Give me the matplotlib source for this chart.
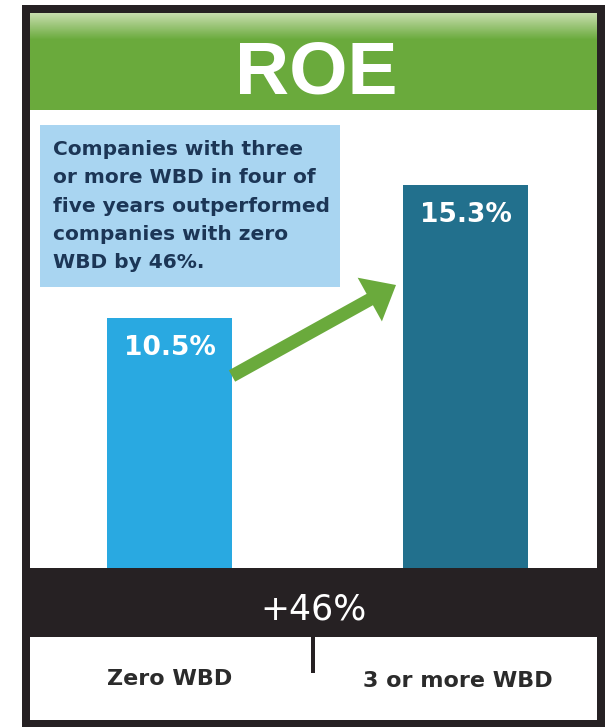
import matplotlib
matplotlib.use("Agg")
import matplotlib.pyplot as plt
import numpy as np
from matplotlib.patches import Rectangle, FancyArrow

# ---- data ----
categories = ["Zero WBD", "3 or more WBD"]
values = [10.5, 15.3]
value_labels = ["10.5%", "15.3%"]
title = "ROE"
uplift_label = "+46%"
note_lines = ["Companies with three",
              "or more WBD in four of",
              "five years outperformed",
              "companies with zero",
              "WBD by 46%."]

bar_colors = ["#29a9e1", "#22708d"]
green = "#6aaa3c"
dark = "#262123"
box_blue = "#a9d5f1"
navy = "#1c3656"

W, H = 608, 727
PT = 0.72  # points per pixel at dpi 100

fig = plt.figure(figsize=(W / 100, H / 100), dpi=100)
fig.patch.set_facecolor("white")

# ---- bar axes (data 0 at y=609 px, 27.71 px per unit) ----
base_px = 609
scale = (base_px - 185) / 15.3
top_px = 13
ax = fig.add_axes([0, (H - base_px) / H, 1, (base_px - top_px) / H], zorder=1)
ax.set_ylim(0, (base_px - top_px) / scale)
unit_x = 296.0
ax.set_xlim(-169.5 / unit_x, 1 + (W - 465.5) / unit_x)
xs = np.arange(len(categories))
ax.bar(xs, values, width=125 / unit_x, color=bar_colors, edgecolor="none")
for x, v, lab in zip(xs, values, value_labels):
    ax.annotate(lab, (x, v), xytext=(0, -37 * PT), textcoords="offset points",
                ha="center", va="baseline", color="white",
                fontsize=19, fontweight="bold", family="DejaVu Sans")
ax.axis("off")
ax.patch.set_alpha(0)

# ---- overlay axes in pixel coordinates ----
ov = fig.add_axes([0, 0, 1, 1], zorder=2)
ov.set_xlim(0, W)
ov.set_ylim(H, 0)
ov.axis("off")
ov.patch.set_alpha(0)

# green header with light top gradient
ov.add_patch(Rectangle((30, 13), 567, 97, facecolor=green, edgecolor="none"))
grad = np.linspace(0, 1, 30).reshape(-1, 1)
top_c = np.array([0.78, 0.87, 0.68])
g_c = np.array(matplotlib.colors.to_rgb(green))
img = top_c[None, None, :] * (1 - grad[..., None]) + g_c[None, None, :] * grad[..., None]
ov.imshow(img, extent=(30, 597, 40, 13), aspect="auto", zorder=1, interpolation="bilinear")
ov.text(316, 93, title, ha="center", va="baseline", color="white",
        fontsize=54, fontweight="bold", family="Liberation Sans", zorder=3)

# note box
ov.add_patch(Rectangle((40, 125), 300, 162, facecolor=box_blue, edgecolor="none", zorder=2))
for i, line in enumerate(note_lines):
    ov.text(53, 155 + i * 28.25, line, ha="left", va="baseline", color=navy,
            fontsize=14.5, fontweight="bold", family="DejaVu Sans", zorder=3)

# arrow
x0, y0, x1, y1 = 232, 376, 396, 285
ov.add_patch(FancyArrow(x0, y0, x1 - x0, y1 - y0, width=13, head_width=50,
                        head_length=30, length_includes_head=True,
                        facecolor=green, edgecolor="none", zorder=3))

# dark band
ov.add_patch(Rectangle((30, 568), 567, 69, facecolor=dark, edgecolor="none", zorder=2))
ov.text(313, 620, uplift_label, ha="center", va="baseline", color="white",
        fontsize=25, family="DejaVu Sans", zorder=3)

# bottom white area and tick
ov.add_patch(Rectangle((30, 637), 567, 86, facecolor="white", edgecolor="none", zorder=2))
ov.plot([313, 313], [637, 673], color=dark, lw=4 * PT, solid_capstyle="butt", zorder=3)
ov.text(170, 685, categories[0], ha="center", va="baseline", color="#2b2b2b",
        fontsize=16, fontweight="bold", family="DejaVu Sans", zorder=3)
ov.text(458, 687, categories[1], ha="center", va="baseline", color="#2b2b2b",
        fontsize=16, fontweight="bold", family="DejaVu Sans", zorder=3)

# frame
ov.add_patch(Rectangle((26, 9), 575, 715, facecolor="none", edgecolor=dark,
                       lw=8 * PT, joinstyle="miter", zorder=4))

fig.savefig("out.png", dpi=100)
